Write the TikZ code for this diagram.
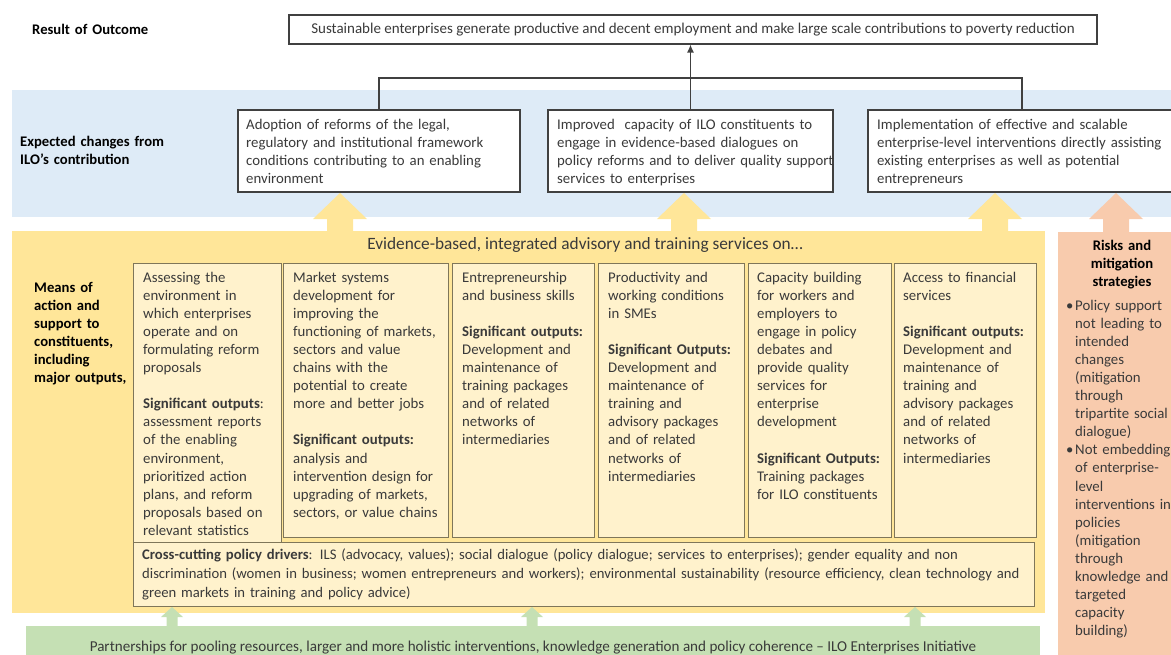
\documentclass[tikz,border=0pt]{standalone}
\usepackage{fontspec}
\setmainfont{Carlito}
\usetikzlibrary{arrows.meta}

\definecolor{bandblue}{HTML}{DEEBF7}
\definecolor{bandyellow}{HTML}{FFE699}
\definecolor{bandorange}{HTML}{F8CBAD}
\definecolor{bandgreen}{HTML}{C5E0B4}
\definecolor{cellfill}{HTML}{FFF2CC}
\definecolor{cellline}{HTML}{7F7659}
\definecolor{linegray}{HTML}{404040}
\definecolor{txt}{HTML}{3A3A3A}

% upward block arrow: centre x, tip y, head base y, tail y, head half width, shaft half width, colour
\newcommand\upblock[7]{%
  \fill[#7] (#1,#2) -- (#1+#5,#3) -- (#1+#6,#3) -- (#1+#6,#4)
    -- (#1-#6,#4) -- (#1-#6,#3) -- (#1-#5,#3) -- cycle;}

\begin{document}
\begin{tikzpicture}[x=1pt,y=-1pt,
  body/.style={font=\fontsize{14.8}{18.1}\selectfont, text=txt, inner sep=0pt,
    anchor=base west, align=left, text width=#1},
  body/.default=200pt,
  small/.style={font=\fontsize{14.67}{19}\selectfont, text=txt, inner sep=0pt},
  heading/.style={font=\bfseries\fontsize{14.67}{18.1}\selectfont, text=black,
    inner sep=0pt, anchor=base west, align=left, text width=160pt},
  bulletmark/.style={font=\fontsize{14.67}{18.1}\selectfont, text=txt, inner sep=0pt,
    anchor=base west},
  cell/.style={draw=cellline, line width=1.2pt, fill=cellfill, anchor=north west,
    inner sep=0pt},
  outbox/.style={draw=linegray, line width=1.1pt, fill=white, inner sep=0pt},
  link/.style={draw=linegray, line width=1.3pt},
]
\useasboundingbox (0,0) rectangle (1171,654);

% background bands
\fill[bandblue]   (12,90)   rectangle (1180,217);
\fill[bandyellow] (12,231)  rectangle (1045,613);
\fill[bandorange] (1058,232) rectangle (1180,660);
\fill[bandgreen]  (26,626)  rectangle (1040,660);

% block arrows between the bands
\upblock{340}{193}{219}{233}{27}{13}{bandyellow}
\upblock{684}{193}{219}{233}{27}{13}{bandyellow}
\upblock{995}{193}{219}{233}{27}{13}{bandyellow}
\upblock{1116}{193}{219}{234}{27}{13}{bandorange}
\upblock{172}{607}{617}{628}{11}{5.5}{bandgreen}
\upblock{532}{607}{617}{628}{11}{5.5}{bandgreen}
\upblock{915}{607}{617}{628}{11}{5.5}{bandgreen}

% row labels
\node[heading] (lres) at (32,34) {Result of Outcome};
\node[heading] (lexp) at (20,146) {Expected changes from\\ILO’s contribution};
\node[heading] (lmeans) at (34,292) {Means of\\action and\\support to\\constituents,\\including\\major outputs,};

% outcome
\node[outbox, minimum width=808pt, minimum height=29pt,
  font=\fontsize{15}{18}\selectfont, text=txt] (top) at (693,29.5)
  {Sustainable enterprises generate productive and decent employment and make large scale contributions to poverty reduction};

% expected changes
\node[outbox, minimum width=282pt, minimum height=82pt] (b1) at (379,151) {};
\node[outbox, minimum width=285pt, minimum height=82pt] (b2) at (690.5,151) {};
\node[outbox, minimum width=308pt, minimum height=82pt] (b3) at (1022,151) {};
\node[body=270pt] (t1) at (246,129) {Adoption of reforms of the legal,\\regulatory and institutional framework\\conditions contributing to an enabling\\environment};
\node[body=280pt] (t2) at (557,129) {Improved\ \ capacity of ILO constituents to\\engage in evidence-based dialogues on\\policy reforms and to deliver quality support\\services to enterprises};
\node[body=300pt] (t3) at (877,129) {Implementation of effective and scalable\\enterprise-level interventions directly assisting\\existing enterprises as well as potential\\entrepreneurs};

% connectors to the outcome
\coordinate (bus) at (690,78);
\draw[link] (b1.north) -- (b1.north |- bus) -- (b3.north |- bus) -- (b3.north);
\draw[link, -{Latex[length=8pt,width=7pt]}] (b2.north) -- (b2.north |- top.south);

% means of action
\node[font=\fontsize{17.3}{20}\selectfont, text=txt, inner sep=0pt, anchor=base] (ev) at (585,249)
  {Evidence-based, integrated advisory and training services on…};

\node[cell, minimum width=148pt, minimum height=279pt] (c1) at (133,263) {};
\node[cell, minimum width=165pt, minimum height=274pt] (c2) at (283,263) {};
\node[cell, minimum width=142pt, minimum height=274pt] (c3) at (452,263) {};
\node[cell, minimum width=146pt, minimum height=274pt] (c4) at (598,263) {};
\node[cell, minimum width=143pt, minimum height=274pt] (c5) at (748,263) {};
\node[cell, minimum width=142pt, minimum height=274pt] (c6) at (894,263) {};
\node[cell, minimum width=901pt, minimum height=64pt] (cross) at (133,542) {};

\node[body] (ct1) at (143,282) {Assessing the\\environment in\\which enterprises\\operate and on\\formulating reform\\proposals\\[18.1pt]\textbf{Significant outputs}:\\assessment reports\\of the enabling\\environment,\\prioritized action\\plans, and reform\\proposals based on\\relevant statistics};
\node[body] (ct2) at (293,282) {Market systems\\development for\\improving the\\functioning of markets,\\sectors and value\\chains with the\\potential to create\\more and better jobs\\[18.1pt]\textbf{Significant outputs:}\\analysis and\\intervention design for\\upgrading of markets,\\sectors, or value chains};
\node[body] (ct3) at (462,282) {Entrepreneurship\\and business skills\\[18.1pt]\textbf{Significant outputs:}\\Development and\\maintenance of\\training packages\\and of related\\networks of\\intermediaries};
\node[body] (ct4) at (608,282) {Productivity and\\working conditions\\in SMEs\\[18.1pt]\textbf{Significant Outputs:}\\Development and\\maintenance of\\training and\\advisory packages\\and of related\\networks of\\intermediaries};
\node[body] (ct5) at (757,282) {Capacity building\\for workers and\\employers to\\engage in policy\\debates and\\provide quality\\services for\\enterprise\\development\\[18.1pt]\textbf{Significant Outputs:}\\Training packages\\for ILO constituents};
\node[body] (ct6) at (903,282) {Access to financial\\services\\[18.1pt]\textbf{Significant outputs:}\\Development and\\maintenance of\\training and\\advisory packages\\and of related\\networks of\\intermediaries};

\node[small, anchor=base west, align=left, text width=900pt] (crosstext) at (142,559)
  {\textbf{Cross-cutting policy drivers}: ILS (advocacy, values); social dialogue (policy dialogue; services to enterprises); gender equality and non\\discrimination (women in business; women entrepreneurs and workers); environmental sustainability (resource efficiency, clean technology and\\green markets in training and policy advice)};

% risks
\node[font=\bfseries\fontsize{14.67}{18.1}\selectfont, text=black, inner sep=0pt,
  anchor=base, align=center, text width=110pt] (risk) at (1122,250)
  {Risks and\\mitigation\\strategies};
\node[bulletmark] (bul1) at (1066,310) {•};
\node[body] (r1) at (1075,310) {Policy support\\not leading to\\intended\\changes\\(mitigation\\through\\tripartite social\\dialogue)};
\node[bulletmark] (bul2) at (1066,454.8) {•};
\node[body] (r2) at (1075,454.8) {Not embedding\\of enterprise-\\level\\interventions in\\policies\\(mitigation\\through\\knowledge and\\targeted\\capacity\\building)};

% partnerships
\node[small, font=\fontsize{15.1}{19}\selectfont, anchor=base] (part) at (533,651)
  {Partnerships for pooling resources, larger and more holistic interventions, knowledge generation and policy coherence – ILO Enterprises Initiative};
\end{tikzpicture}
\end{document}
